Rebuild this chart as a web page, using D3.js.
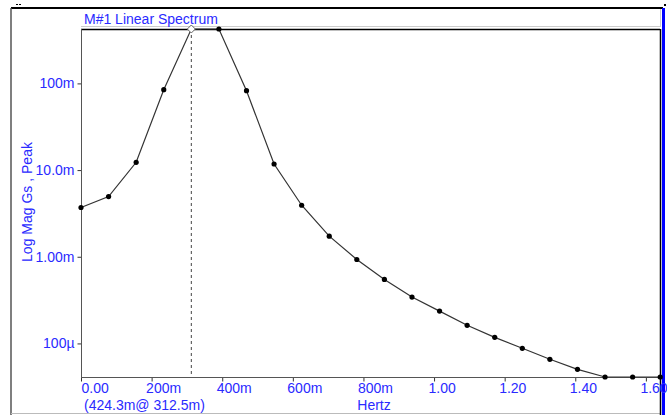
<!DOCTYPE html>
<html>
<head>
<meta charset="utf-8">
<script src="https://cdn.jsdelivr.net/npm/d3@7"></script>
<style>
body{margin:0;background:#fff;}
svg text{font-family:"Liberation Sans",Arial,sans-serif;font-size:14px;fill:#2a2aff;}
</style>
</head>
<body>
<script>
//spectrum samples, df = 78.125 mHz
var freqs=[0,0.078125,0.15625,0.234375,0.3125,0.390625,0.46875,0.546875,0.625,0.703125,0.78125,
	0.859375,0.9375,1.015625,1.09375,1.171875,1.25,1.328125,1.40625,1.484375,1.5625,1.640625];
var mags=[3.70e-3,4.95e-3,12.3e-3,84.6e-3,424.3e-3,440e-3,82.4e-3,11.75e-3,3.93e-3,1.73e-3,0.93e-3,
	0.547e-3,0.343e-3,0.236e-3,0.162e-3,0.1175e-3,0.0879e-3,0.0656e-3,0.0503e-3,0.036e-3,0.030e-3,0.027e-3];

var yTicks=[0.1,0.01,0.001,0.0001],
	yLabels=["100m","10.0m","1.00m","100µ"];
var xTicks=[0,0.2,0.4,0.6,0.8,1.0,1.2,1.4,1.6],
	xLabels=["0.00","200m","400m","600m","800m","1.00","1.20","1.40","1.60"];

var title="M#1 Linear Spectrum",
	cursorText="(424.3m@ 312.5m)",
	cursorFreq=0.3125,
	xTitle="Hertz",
	yTitle="Log Mag Gs , Peak";

window.onload=setChart();

function setChart(){
	var width=667,height=415;
	var left=81,right=660,top=29,bottom=377;

	var svg=d3.select("body").append("svg")
		.attr("width",width)
		.attr("height",height);

	var x=d3.scaleLinear().domain([0,1.64]).range([left,right]);
	var y=d3.scaleLog().domain([4.1e-5,0.4243]).range([bottom,top]).clamp(true);

	//outer frame
	svg.append("line").attr("x1",11).attr("x2",663).attr("y1",8).attr("y2",8)
		.attr("stroke","#000").attr("stroke-width",2);
	svg.append("line").attr("x1",11).attr("x2",11).attr("y1",8).attr("y2",415)
		.attr("stroke","#555").attr("stroke-width",1.5);
	svg.append("line").attr("x1",11).attr("x2",660).attr("y1",413.5).attr("y2",413.5)
		.attr("stroke","#bbb");
	svg.append("line").attr("x1",16).attr("x2",22).attr("y1",4.5).attr("y2",4.5)
		.attr("stroke","#000").attr("stroke-dasharray","2,1");
	//title band
	svg.append("line").attr("x1",left).attr("x2",660).attr("y1",26.5).attr("y2",26.5)
		.attr("stroke","#ccc");
	svg.append("line").attr("x1",660.5).attr("x2",660.5).attr("y1",9).attr("y2",27)
		.attr("stroke","#ccc");
	//right edge
	svg.append("rect").attr("x",662).attr("y",8).attr("width",3).attr("height",407)
		.attr("fill","#0000ff");
	svg.append("line").attr("x1",660.5).attr("x2",660.5).attr("y1",29).attr("y2",415)
		.attr("stroke","#000").attr("stroke-width",1.5);
	svg.append("rect").attr("x",664).attr("y",4).attr("width",2).attr("height",2).attr("fill","#000");

	//plot top border
	svg.append("line").attr("x1",left).attr("x2",right).attr("y1",top+0.5).attr("y2",top+0.5)
		.attr("stroke","#000").attr("stroke-width",1.5);

	//axes
	var yAxis=d3.axisLeft(y).tickValues(yTicks)
		.tickFormat(function(d,i){return yLabels[i];})
		.tickSize(4).tickPadding(3);
	var gy=svg.append("g").attr("transform","translate("+(left+0.5)+",0)").call(yAxis);
	gy.select(".domain").remove();
	svg.append("line").attr("x1",left+0.5).attr("x2",left+0.5).attr("y1",top).attr("y2",bottom+4)
		.attr("stroke","#555");

	var xAxis=d3.axisBottom(x).tickValues(xTicks)
		.tickFormat(function(d,i){return xLabels[i];})
		.tickSize(4).tickPadding(2);
	var gx=svg.append("g").attr("transform","translate(0,"+(bottom+0.5)+")").call(xAxis);
	gx.select(".domain").remove();
	gx.selectAll(".tick text").attr("text-anchor","start").attr("dx",-6);
	gx.select(".tick text").attr("dx",0);
	svg.append("line").attr("x1",left).attr("x2",right).attr("y1",bottom+0.5).attr("y2",bottom+0.5)
		.attr("stroke","#555");
	svg.selectAll(".tick line").attr("stroke","#333");
	svg.selectAll(".tick text").style("fill","#2a2aff").style("font-size","14px")
		.style("font-family","'Liberation Sans',Arial,sans-serif");

	//texts
	svg.append("text").attr("x",84).attr("y",24).text(title);
	svg.append("text").attr("x",84).attr("y",410).text(cursorText);
	svg.append("text").attr("x",374).attr("y",410).attr("text-anchor","middle").text(xTitle);
	svg.append("text").attr("transform","translate(32,202) rotate(-90)")
		.attr("text-anchor","middle").text(yTitle);

	//cursor line
	svg.append("line").attr("x1",x(cursorFreq)).attr("x2",x(cursorFreq))
		.attr("y1",top).attr("y2",bottom)
		.attr("stroke","#444").attr("stroke-dasharray","3,3");

	//spectrum line
	var line=d3.line()
		.x(function(d,i){return x(freqs[i]);})
		.y(function(d){return y(d);});
	svg.append("path").datum(mags)
		.attr("d",line)
		.attr("fill","none")
		.attr("stroke","#333")
		.attr("stroke-width",1.2);

	svg.selectAll(".pt").data(mags).enter()
		.append("circle")
		.attr("class","pt")
		.attr("cx",function(d,i){return x(freqs[i]);})
		.attr("cy",function(d){return y(d);})
		.attr("r",2.6)
		.attr("fill","#000")
		.filter(function(d,i){return freqs[i]===cursorFreq;}).remove();

	//cursor marker
	var cx=x(cursorFreq),cy=y(mags[freqs.indexOf(cursorFreq)]);
	svg.append("path")
		.attr("d","M"+cx+","+(cy-4)+"L"+(cx+4)+","+cy+"L"+cx+","+(cy+4)+"L"+(cx-4)+","+cy+"Z")
		.attr("fill","#fff").attr("stroke","#666");
}
</script>
</body>
</html>
